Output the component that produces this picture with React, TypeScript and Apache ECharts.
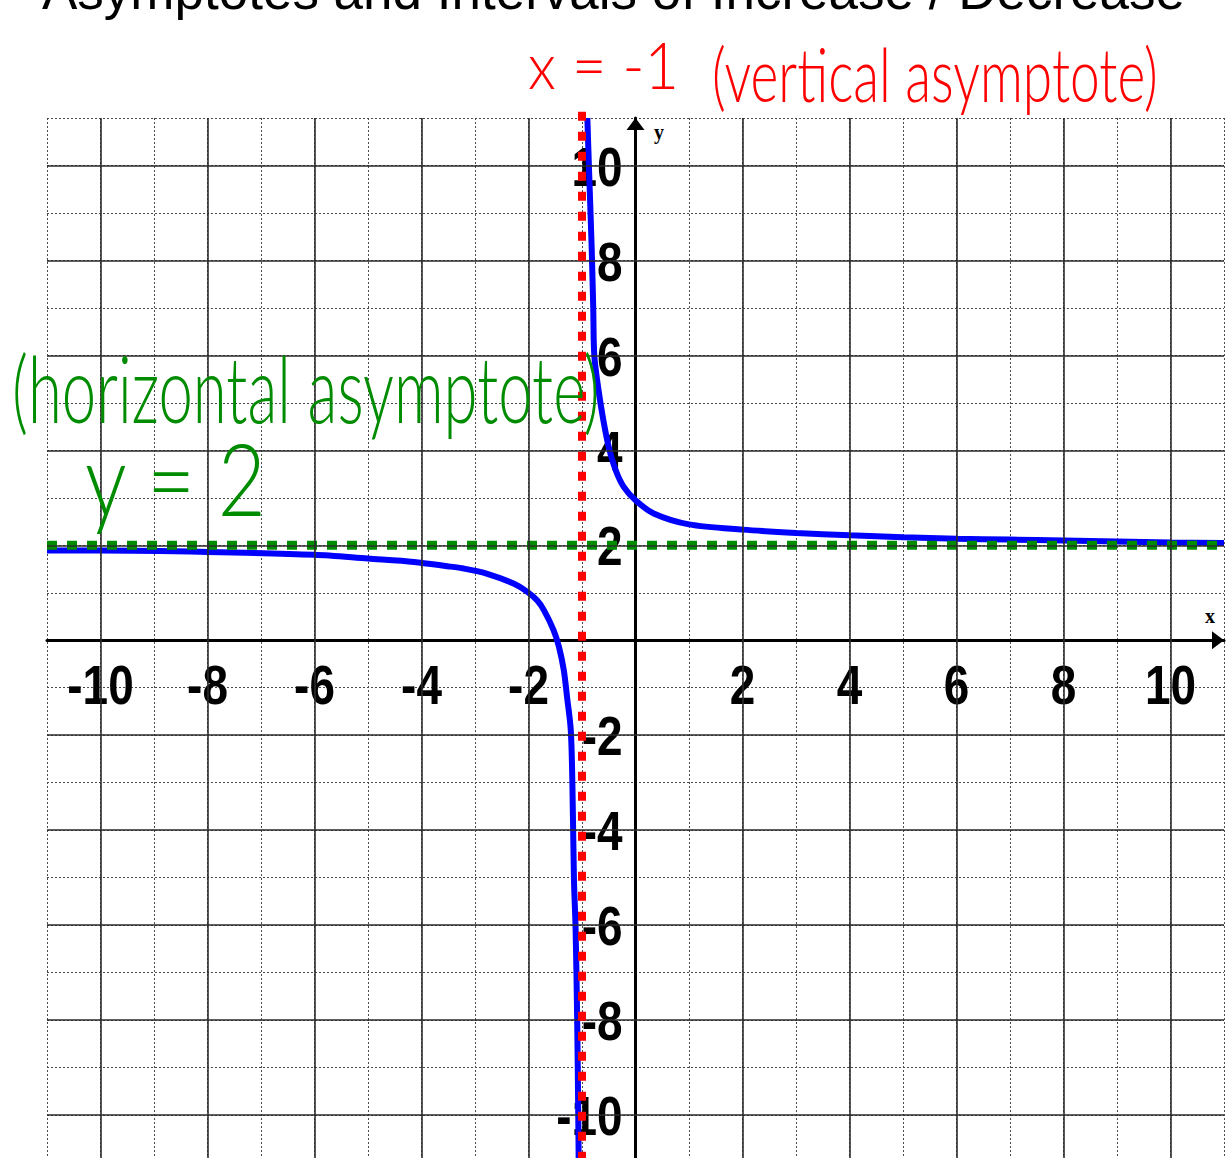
import React, { useEffect, useRef } from "react";
import * as echarts from "echarts";

// Axis extents and labelled (major) grid values
const X_MIN = -11;
const X_MAX = 11;
const Y_MIN = -11;
const Y_MAX = 11;
const majorX = [-10, -8, -6, -4, -2, 2, 4, 6, 8, 10];
const majorY = [-10, -8, -6, -4, -2, 2, 4, 6, 8, 10];

// Left branch of the rational function (x < -1)
const leftBranchX = [-11, -10, -8, -6, -5, -4.14, -3.52, -3.21, -2.77, -2.27, -2.02, -1.84, -1.71, -1.53, -1.43, -1.34, -1.28, -1.21, -1.18, -1.15, -1.12, -1.09, -1.07, -1.06];
const leftBranchY = [1.89, 1.89, 1.86, 1.8, 1.72, 1.65, 1.56, 1.51, 1.4, 1.19, 1.02, 0.84, 0.63, 0.21, -0.14, -0.63, -1.19, -1.89, -3.0, -5.05, -6.06, -8.0, -10.0, -11.2];

// Right branch of the rational function (x > -1)
const rightBranchX = [-0.9, -0.87, -0.82, -0.79, -0.77, -0.69, -0.6, -0.5, -0.37, -0.22, 0, 0.34, 1, 2, 3, 4, 5, 6, 7, 8, 9, 10, 11];
const rightBranchY = [11, 9.96, 8.3, 7.0, 6.0, 5.26, 4.63, 4.07, 3.58, 3.23, 2.95, 2.67, 2.44, 2.33, 2.26, 2.21, 2.17, 2.14, 2.12, 2.1, 2.08, 2.06, 2.05];

// Asymptotes
const verticalAsymptoteX = -1;
const verticalAsymptoteSpan = [11.13, -11.2];
const horizontalAsymptoteY = 2;

const TITLE = "Asymptotes and Intervals of Increase / Decrease";
const VERTICAL_NOTE_EQ = "x = -1";
const VERTICAL_NOTE = "(vertical asymptote)";
const HORIZONTAL_NOTE = "(horizontal asymptote)";
const HORIZONTAL_NOTE_EQ = "y = 2";

const zip = (xs: number[], ys: number[]) => xs.map((x, i) => [x, ys[i]]);

const handFont = 'Lato, "DejaVu Sans", sans-serif';
const tickFont = '"Liberation Sans", Arial, sans-serif';
const TICK_FONT_SIZE = 56;
const TICK_SCALE_X = 0.82; // narrow bold digits

export default function App() {
  const ref = useRef<HTMLDivElement>(null);

  useEffect(() => {
    if (!ref.current) return;
    const chart = echarts.init(ref.current, undefined, { renderer: "svg" });

    const axisCommon = {
      type: "value" as const,
      interval: 1,
      axisTick: { show: false },
      axisLabel: { show: false },
      splitLine: {
        show: true,
        lineStyle: { color: "#4a4a4a", width: 1, type: [2, 2] },
      },
      axisLine: {
        onZero: true,
        symbol: ["none", "triangle"],
        symbolSize: [18, 12],
        symbolOffset: [0, -6],
        lineStyle: { color: "#000", width: 3 },
      },
    };

    const annotations: any[] = [
      {
        type: "text",
        x: 42,
        y: 17,
        style: {
          text: TITLE,
          fontSize: 53,
          fontFamily: '"Liberation Sans", Arial, sans-serif',
          fill: "#000",
          verticalAlign: "bottom",
        },
      },
      {
        type: "text",
        x: 528,
        y: 96,
        z: 6,
        scaleX: 0.9,
        style: {
          text: VERTICAL_NOTE_EQ,
          fontSize: 66,
          fontWeight: 300,
          fontFamily: handFont,
          fill: "#ff0000",
          verticalAlign: "bottom",
        },
      },
      {
        type: "text",
        x: 712,
        y: 110,
        z: 6,
        scaleX: 0.72,
        style: {
          text: VERTICAL_NOTE,
          fontSize: 74,
          fontWeight: 300,
          fontFamily: handFont,
          fill: "#ff0000",
          verticalAlign: "bottom",
        },
      },
      {
        type: "text",
        x: 12,
        y: 434,
        z: 6,
        scaleX: 0.67,
        style: {
          text: HORIZONTAL_NOTE,
          fontSize: 92,
          fontWeight: 300,
          fontFamily: handFont,
          fill: "#008c00",
          verticalAlign: "bottom",
        },
      },
      {
        type: "text",
        x: 85,
        y: 527,
        z: 6,
        scaleX: 0.83,
        style: {
          text: HORIZONTAL_NOTE_EQ,
          fontSize: 100,
          fontWeight: 300,
          fontFamily: handFont,
          fill: "#008c00",
          verticalAlign: "bottom",
        },
      },
      {
        type: "text",
        x: 654,
        y: 122,
        style: {
          text: "y",
          fontSize: 20,
          fontWeight: "bold",
          fontFamily: '"Liberation Serif", "Times New Roman", serif',
          fill: "#000",
        },
      },
      {
        type: "text",
        x: 1205,
        y: 606,
        style: {
          text: "x",
          fontSize: 20,
          fontWeight: "bold",
          fontFamily: '"Liberation Serif", "Times New Roman", serif',
          fill: "#000",
        },
      },
    ];

    const option = {
      animation: false,
      backgroundColor: "#ffffff",
      grid: {
        left: 47,
        top: 118,
        width: 1177,
        height: 1044.5,
        containLabel: false,
        outerBoundsMode: "none",
      },
      xAxis: { ...axisCommon, min: X_MIN, max: X_MAX },
      yAxis: { ...axisCommon, min: Y_MIN, max: Y_MAX },
      series: [
        {
          // solid grid lines on the even values
          type: "line",
          z: 1,
          data: [[X_MIN, Y_MIN]],
          showSymbol: false,
          lineStyle: { opacity: 0 },
          silent: true,
          markLine: {
            silent: true,
            symbol: ["none", "none"],
            label: { show: false },
            lineStyle: { color: "#2b2b2b", width: 1.6, type: "solid" },
            data: [
              ...majorX.map((v) => ({ xAxis: v })),
              ...majorY.map((v) => ({ yAxis: v })),
            ],
          },
        },
        {
          type: "line",
          z: 3,
          data: zip(leftBranchX, leftBranchY),
          showSymbol: false,
          smooth: 0.3,
          lineStyle: { color: "#0000ff", width: 6 },
        },
        {
          type: "line",
          z: 3,
          data: zip(rightBranchX, rightBranchY),
          showSymbol: false,
          smooth: 0.3,
          lineStyle: { color: "#0000ff", width: 6 },
        },
        {
          type: "line",
          z: 4,
          data: [
            [X_MIN, horizontalAsymptoteY],
            [X_MAX, horizontalAsymptoteY],
          ],
          showSymbol: false,
          lineStyle: { color: "#008c00", width: 9, type: [10, 10], cap: "butt" },
        },
        {
          type: "line",
          z: 5,
          clip: false,
          data: verticalAsymptoteSpan.map((y) => [verticalAsymptoteX, y]),
          showSymbol: false,
          lineStyle: { color: "#ff0000", width: 8, type: [9, 11], cap: "butt" },
        },
      ],
    };

    chart.setOption(option as any);

    // Tick labels placed through the axes' own scales, next to the zero lines
    const tickStyle = {
      fontSize: TICK_FONT_SIZE,
      fontWeight: "bold",
      fontFamily: tickFont,
      fill: "#000",
    };
    const xTickLabels = majorX.map((v) => {
      const [px, py] = chart.convertToPixel({ gridIndex: 0 }, [v, 0]) as number[];
      return {
        type: "text",
        x: px,
        y: py + 45,
        z: 2,
        scaleX: TICK_SCALE_X,
        style: { ...tickStyle, text: String(v), align: "center", verticalAlign: "middle" },
      };
    });
    const yTickLabels = majorY.map((v) => {
      const [px, py] = chart.convertToPixel({ gridIndex: 0 }, [0, v]) as number[];
      return {
        type: "text",
        x: px - 13,
        y: py + 1,
        z: 2,
        scaleX: TICK_SCALE_X,
        style: { ...tickStyle, text: String(v), align: "right", verticalAlign: "middle" },
      };
    });

    chart.setOption({ graphic: [...xTickLabels, ...yTickLabels, ...annotations] } as any);
    return () => chart.dispose();
  }, []);

  return (
    <div
      ref={ref}
      style={{ position: "fixed", left: 0, top: 0, width: 1226, height: 1158 }}
    />
  );
}
